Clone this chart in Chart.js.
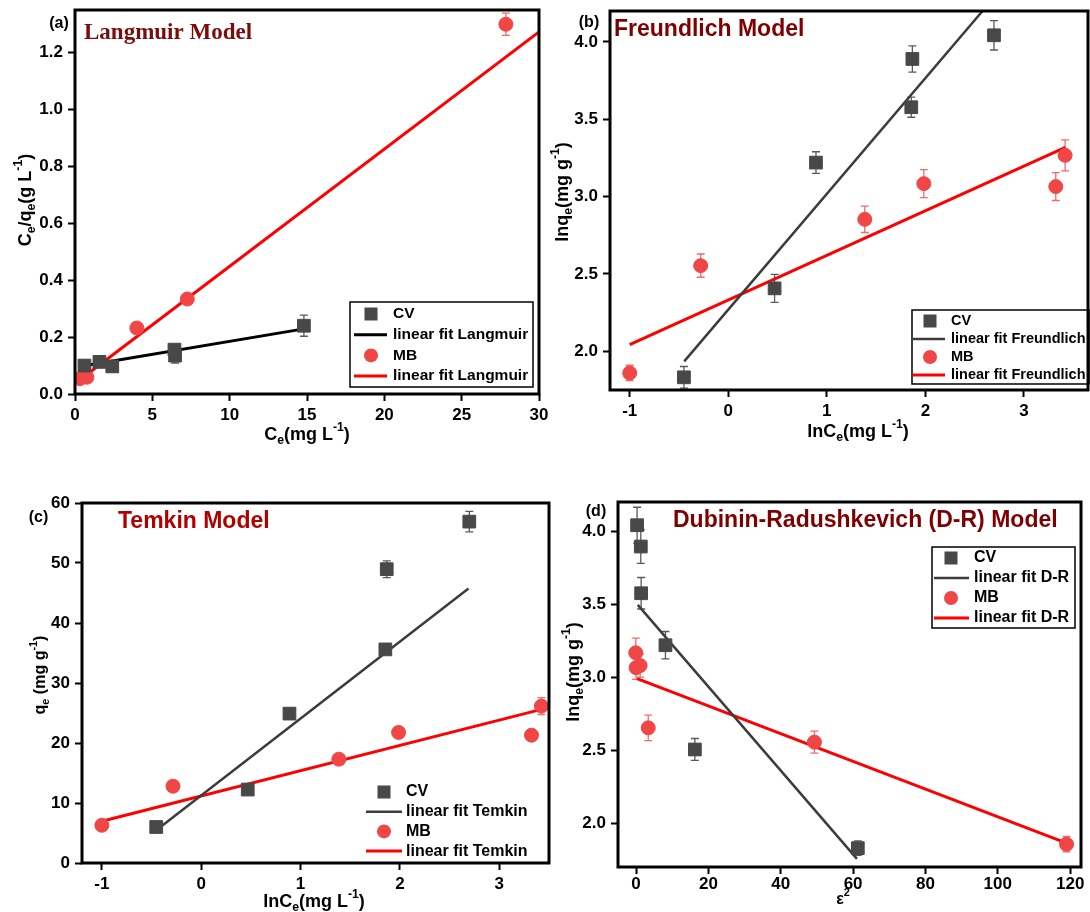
<!DOCTYPE html>
<html>
<head>
<meta charset="utf-8">
<script src="https://cdn.jsdelivr.net/npm/chart.js@4.4.0/dist/chart.umd.min.js"></script>
<style>
	body { margin: 0; background: #fff; width: 1090px; height: 912px; position: relative; overflow: hidden; }
	canvas { position: absolute; }
</style>
</head>
<body>
<canvas id="chart-a" width="560" height="450" style="left:0;top:0"></canvas>
<canvas id="chart-b" width="545" height="450" style="left:545px;top:0"></canvas>
<canvas id="chart-c" width="560" height="452" style="left:0;top:460px"></canvas>
<canvas id="chart-d" width="530" height="452" style="left:560px;top:460px"></canvas>
<script>
// (a) Langmuir: Ce vs Ce/qe
const langCvX = [ 0.61, 1.58, 2.41, 6.43, 6.47, 14.8 ];
const langCvY = [ 0.100, 0.113, 0.097, 0.156, 0.135, 0.240 ];
const langCvErr = [ 0.008, 0.02, 0.008, 0.012, 0.026, 0.037 ];
const langMbX = [ 0.32, 0.77, 4.0, 7.26, 27.86 ];
const langMbY = [ 0.054, 0.059, 0.232, 0.334, 1.30 ];
const langMbErr = [ 0.005, 0.005, 0.01, 0.01, 0.039 ];
const langCvFitX = [ 0.7, 14.8 ];
const langCvFitY = [ 0.100, 0.229 ];
const langMbFitX = [ 0.32, 30 ];
const langMbFitY = [ 0.050, 1.273 ];
const langTicksX = [ 0, 5, 10, 15, 20, 25, 30 ];
const langTicksY = [ 0, 0.2, 0.4, 0.6, 0.8, 1.0, 1.2 ];

// (b) Freundlich: lnCe vs lnqe
const freCvX = [ -0.45, 0.47, 0.89, 1.857, 1.868, 2.696 ];
const freCvY = [ 1.832, 2.407, 3.22, 3.578, 3.89, 4.043 ];
const freCvErr = [ 0.07, 0.09, 0.07, 0.065, 0.085, 0.095 ];
const freMbX = [ -1.0, -0.28, 1.385, 1.984, 3.323, 3.418 ];
const freMbY = [ 1.86, 2.554, 2.853, 3.084, 3.065, 3.267 ];
const freMbErr = [ 0.05, 0.075, 0.085, 0.09, 0.09, 0.1 ];
const freCvFitX = [ -0.447, 2.58 ];
const freCvFitY = [ 1.935, 4.2 ];
const freMbFitX = [ -1.0, 3.42 ];
const freMbFitY = [ 2.043, 3.319 ];
const freTicksX = [ -1, 0, 1, 2, 3 ];
const freTicksY = [ 2.0, 2.5, 3.0, 3.5, 4.0 ];

// (c) Temkin: lnCe vs qe
const temCvX = [ -0.453, 0.468, 0.888, 1.853, 1.867, 2.698 ];
const temCvY = [ 6.0, 12.24, 24.9, 35.6, 48.97, 56.9 ];
const temCvErr = [ 0.3, 0.4, 0.5, 0.8, 1.4, 1.7 ];
const temMbX = [ -1.0, -0.284, 1.385, 1.986, 3.324, 3.424 ];
const temMbY = [ 6.29, 12.8, 17.3, 21.76, 21.3, 26.15 ];
const temMbErr = [ 0.3, 0.4, 0.5, 0.5, 0.8, 1.4 ];
const temCvFitX = [ -0.453, 2.69 ];
const temCvFitY = [ 5.45, 45.74 ];
const temMbFitX = [ -1.0, 3.424 ];
const temMbFitY = [ 6.96, 25.6 ];
const temTicksX = [ -1, 0, 1, 2, 3 ];
const temTicksY = [ 0, 10, 20, 30, 40, 50, 60 ];

// (d) Dubinin-Radushkevich: eps^2 vs lnqe
const drCvX = [ 0.28, 1.3, 1.4, 8.12, 16.25, 61.3 ];
const drCvY = [ 4.041, 3.895, 3.575, 3.219, 2.505, 1.829 ];
const drCvErr = [ 0.123, 0.115, 0.108, 0.094, 0.075, 0.05 ];
const drMbX = [ -0.09, 0.0, 1.12, 3.36, 49.3, 119 ];
const drMbY = [ 3.167, 3.065, 3.08, 2.653, 2.555, 1.856 ];
const drMbErr = [ 0.1, 0.08, 0.08, 0.087, 0.075, 0.053 ];
const drCvFitX = [ 0.47, 61.06 ];
const drCvFitY = [ 3.495, 1.756 ];
const drMbFitX = [ 0.28, 119 ];
const drMbFitY = [ 2.99, 1.863 ];
const drTicksX = [ 0, 20, 40, 60, 80, 100, 120 ];
const drTicksY = [ 2.0, 2.5, 3.0, 3.5, 4.0 ];

const FONT = "'Liberation Sans', Arial, sans-serif";
const CV_COLOR = '#484848';
const MB_COLOR = '#f04646';
Chart.defaults.font.family = FONT;

const pts = ( xs, ys ) => xs.map( ( x, i ) => ( { x, y: ys[ i ] } ) );

function markers( label, xs, ys, errs, style ) {
	const isCv = style === 'rect';
	return {
		label,
		data: pts( xs, ys ),
		errors: errs,
		errorColor: isCv ? '#5a5a5a' : '#f26a6a',
		pointStyle: style,
		pointRadius: isCv ? 9 : 7,
		pointBackgroundColor: isCv ? CV_COLOR : MB_COLOR,
		pointBorderColor: isCv ? CV_COLOR : MB_COLOR,
		pointBorderWidth: 1,
		order: 0,
	};
}

function fitLine( label, xs, ys, color, width ) {
	return {
		label,
		data: pts( xs, ys ),
		showLine: true,
		pointRadius: 0,
		borderColor: color,
		borderWidth: width,
		order: 1,
	};
}

function axis( min, max, ticks, fmt, size, horizontal, pad ) {
	return {
		type: 'linear',
		min,
		max,
		afterBuildTicks: ( s ) => {
			s.ticks = ticks.map( ( v ) => ( { value: v } ) );
		},
		afterFit: ( s ) => {
			if ( horizontal ) s.height = size;
			else s.width = size;
			s.paddingLeft = 0;
			s.paddingRight = 0;
			s.paddingTop = 0;
			s.paddingBottom = 0;
		},
		grid: { display: true, drawOnChartArea: false, drawTicks: true, tickLength: 7, tickWidth: 2, tickColor: '#000' },
		border: { display: false },
		ticks: {
			color: '#000',
			font: { size: 17, weight: 'bold' },
			padding: pad !== undefined ? pad : ( horizontal ? 4 : 5 ),
			maxRotation: 0,
			autoSkip: false,
			callback: fmt,
		},
	};
}

// text with sub/superscripts, centred on (x, y)
function richText( ctx, parts, x, y, size, rotate ) {
	ctx.save();
	ctx.translate( x, y );
	if ( rotate ) ctx.rotate( -Math.PI / 2 );
	ctx.fillStyle = '#000';
	ctx.textBaseline = 'middle';
	ctx.textAlign = 'left';
	const fontFor = ( p ) => `bold ${ p[ 1 ] ? size * 0.68 : size }px ${ FONT }`;
	let w = 0;
	parts.forEach( ( p ) => {
		ctx.font = fontFor( p );
		w += ctx.measureText( p[ 0 ] ).width;
	} );
	let cx = -w / 2;
	parts.forEach( ( p ) => {
		ctx.font = fontFor( p );
		const dy = p[ 1 ] === 'sub' ? size * 0.3 : p[ 1 ] === 'sup' ? -size * 0.42 : 0;
		ctx.fillText( p[ 0 ], cx, dy );
		cx += ctx.measureText( p[ 0 ] ).width;
	} );
	ctx.restore();
}

const errorBars = {
	id: 'errorBars',
	beforeDatasetsDraw( chart ) {
		const { ctx, scales: { x, y } } = chart;
		chart.data.datasets.forEach( ( ds ) => {
			if ( ! ds.errors ) return;
			ctx.save();
			ctx.strokeStyle = ds.errorColor;
			ctx.lineWidth = 1.3;
			ds.data.forEach( ( p, i ) => {
				const px = x.getPixelForValue( p.x );
				const top = y.getPixelForValue( p.y + ds.errors[ i ] );
				const bot = y.getPixelForValue( p.y - ds.errors[ i ] );
				ctx.beginPath();
				ctx.moveTo( px, top );
				ctx.lineTo( px, bot );
				ctx.moveTo( px - 4, top );
				ctx.lineTo( px + 4, top );
				ctx.moveTo( px - 4, bot );
				ctx.lineTo( px + 4, bot );
				ctx.stroke();
			} );
			ctx.restore();
		} );
	},
};

function decor( panel ) {
	return {
		id: 'decor',
		afterDraw( chart ) {
			const ctx = chart.ctx;
			const a = chart.chartArea;
			const ox = panel.left;
			const oy = panel.top;
			ctx.save();
			// frame
			ctx.strokeStyle = '#000';
			ctx.lineWidth = 3;
			ctx.strokeRect( a.left, a.top, a.right - a.left, a.bottom - a.top );

			// panel letter
			ctx.fillStyle = '#000';
			ctx.font = `bold 16px ${ FONT }`;
			ctx.textAlign = 'center';
			ctx.textBaseline = 'middle';
			ctx.fillText( panel.letter[ 0 ], panel.letter[ 1 ] - ox, panel.letter[ 2 ] - oy );

			// model title
			ctx.fillStyle = panel.title.color;
			ctx.font = panel.title.font;
			ctx.textAlign = 'left';
			ctx.fillText( panel.title.text, panel.title.x - ox, panel.title.y - oy );

			// axis titles
			richText( ctx, panel.yTitle.parts, panel.yTitle.x - ox, panel.yTitle.y - oy, panel.yTitle.size, true );
			richText( ctx, panel.xTitle.parts, panel.xTitle.x - ox, panel.xTitle.y - oy, panel.xTitle.size, false );

			// legend
			const lg = panel.legend;
			if ( lg.box ) {
				ctx.strokeStyle = '#000';
				ctx.lineWidth = 1.5;
				ctx.strokeRect( lg.box[ 0 ] - ox, lg.box[ 1 ] - oy, lg.box[ 2 ] - lg.box[ 0 ], lg.box[ 3 ] - lg.box[ 1 ] );
			}
			ctx.font = `bold ${ lg.size }px ${ FONT }`;
			ctx.textBaseline = 'middle';
			chart.data.datasets.forEach( ( ds, i ) => {
				const yy = lg.row0 + i * lg.step - oy;
				if ( ds.showLine ) {
					ctx.strokeStyle = ds.borderColor;
					ctx.lineWidth = ds.borderWidth;
					ctx.beginPath();
					ctx.moveTo( lg.line[ 0 ] - ox, yy );
					ctx.lineTo( lg.line[ 1 ] - ox, yy );
					ctx.stroke();
				} else {
					ctx.fillStyle = ds.pointBackgroundColor;
					if ( ds.pointStyle === 'rect' ) {
						ctx.fillRect( lg.mark - ox - 6.5, yy - 6.5, 13, 13 );
					} else {
						ctx.beginPath();
						ctx.arc( lg.mark - ox, yy, 7, 0, Math.PI * 2 );
						ctx.fill();
					}
				}
				ctx.fillStyle = '#000';
				ctx.fillText( ds.label, lg.text - ox, yy );
			} );
			ctx.restore();
		},
	};
}

function makePanel( id, panel, datasets, xAxis, yAxis ) {
	const ctx = document.getElementById( id ).getContext( '2d' );
	return new Chart( ctx, {
		type: 'scatter',
		data: { datasets },
		options: {
			responsive: false,
			animation: false,
			layout: { autoPadding: false, padding: { top: panel.padTop, right: panel.padRight, left: 0, bottom: 0 } },
			plugins: { legend: { display: false }, tooltip: { enabled: false } },
			scales: { x: xAxis, y: yAxis },
		},
		plugins: [ errorBars, decor( panel ) ],
	} );
}

const fix1 = ( v ) => v.toFixed( 1 );
const int = ( v ) => String( v );
const E = 'sub';
const S = 'sup';

makePanel( 'chart-a', {
	left: 0, top: 0, padTop: 10, padRight: 21,
	letter: [ '(a)', 59, 24 ],
	title: { text: 'Langmuir Model', x: 84, y: 33, color: '#7c0b0b', font: "bold 23px 'Liberation Serif', 'Times New Roman', serif" },
	yTitle: { parts: [ [ 'C' ], [ 'e', E ], [ '/q' ], [ 'e', E ], [ '(g L' ], [ '-1', S ], [ ')' ] ], x: 26, y: 200, size: 18 },
	xTitle: { parts: [ [ 'C' ], [ 'e', E ], [ '(mg L' ], [ '-1', S ], [ ')' ] ], x: 307, y: 435, size: 18 },
	legend: { box: [ 350, 302, 533, 387 ], row0: 314, step: 20.7, mark: 371, line: [ 354, 387 ], text: 393, size: 15.5 },
}, [
	markers( 'CV', langCvX, langCvY, langCvErr, 'rect' ),
	fitLine( 'linear fit Langmuir', langCvFitX, langCvFitY, '#000000', 3 ),
	markers( 'MB', langMbX, langMbY, langMbErr, 'circle' ),
	fitLine( 'linear fit Langmuir', langMbFitX, langMbFitY, '#ff0000', 3 ),
], axis( 0, 30, langTicksX, int, 56, true ), axis( 0, 1.35, langTicksY, fix1, 75, false ) );

makePanel( 'chart-b', {
	left: 545, top: 0, padTop: 11, padRight: 2,
	letter: [ '(b)', 589, 23 ],
	title: { text: 'Freundlich Model', x: 614, y: 30, color: '#7f0000', font: `bold 23px ${ FONT }` },
	yTitle: { parts: [ [ 'lnq' ], [ 'e', E ], [ '(mg g' ], [ '-1', S ], [ ')' ] ], x: 563, y: 192, size: 18 },
	xTitle: { parts: [ [ 'lnC' ], [ 'e', E ], [ '(mg L' ], [ '-1', S ], [ ')' ] ], x: 858, y: 432, size: 18 },
	legend: { box: [ 912, 310, 1089, 384 ], row0: 321, step: 18, mark: 930, line: [ 913, 945 ], text: 951, size: 14.5 },
}, [
	markers( 'CV', freCvX, freCvY, freCvErr, 'rect' ),
	fitLine( 'linear fit Freundlich', freCvFitX, freCvFitY, '#3c3c3c', 2.5 ),
	markers( 'MB', freMbX, freMbY, freMbErr, 'circle' ),
	fitLine( 'linear fit Freundlich', freMbFitX, freMbFitY, '#ff0000', 3 ),
], axis( -1.2, 3.65, freTicksX, int, 60, true ), axis( 1.75, 4.2, freTicksY, fix1, 65, false ) );

makePanel( 'chart-c', {
	left: 0, top: 460, padTop: 43, padRight: 11,
	letter: [ '(c)', 38.5, 518 ],
	title: { text: 'Temkin Model', x: 118, y: 522, color: '#b00000', font: `bold 23px ${ FONT }` },
	yTitle: { parts: [ [ 'q' ], [ 'e', E ], [ ' (mg g' ], [ '-1', S ], [ ')' ] ], x: 41, y: 675, size: 16 },
	xTitle: { parts: [ [ 'lnC' ], [ 'e', E ], [ '(mg L' ], [ '-1', S ], [ ')' ] ], x: 314, y: 902, size: 18 },
	legend: { box: null, row0: 792, step: 19.7, mark: 384, line: [ 366, 402 ], text: 406, size: 16 },
}, [
	markers( 'CV', temCvX, temCvY, temCvErr, 'rect' ),
	fitLine( 'linear fit Temkin', temCvFitX, temCvFitY, '#3c3c3c', 2.5 ),
	markers( 'MB', temMbX, temMbY, temMbErr, 'circle' ),
	fitLine( 'linear fit Temkin', temMbFitX, temMbFitY, '#ff0000', 3 ),
], axis( -1.2, 3.5, temTicksX, int, 49, true ), axis( 0, 60, temTicksY, int, 82, false ) );

makePanel( 'chart-d', {
	left: 560, top: 460, padTop: 42, padRight: 9,
	letter: [ '(d)', 596, 512 ],
	title: { text: 'Dubinin-Radushkevich (D-R) Model', x: 673, y: 521, color: '#7f0000', font: `bold 23px ${ FONT }` },
	yTitle: { parts: [ [ 'lnq' ], [ 'e', E ], [ '(mg g' ], [ '-1', S ], [ ')' ] ], x: 574, y: 672, size: 18 },
	xTitle: { parts: [ [ 'ε' ], [ '2', S ] ], x: 843, y: 900, size: 16 },
	legend: { box: [ 932, 547, 1075, 628 ], row0: 558, step: 20, mark: 951, line: [ 934, 969 ], text: 974, size: 16 },
}, [
	markers( 'CV', drCvX, drCvY, drCvErr, 'rect' ),
	fitLine( 'linear fit D-R', drCvFitX, drCvFitY, '#3c3c3c', 2.5 ),
	markers( 'MB', drMbX, drMbY, drMbErr, 'circle' ),
	fitLine( 'linear fit D-R', drMbFitX, drMbFitY, '#ff0000', 3 ),
], axis( -5, 123, drTicksX, int, 45, true, 0 ), axis( 1.7, 4.2, drTicksY, fix1, 58, false ) );
</script>
</body>
</html>
